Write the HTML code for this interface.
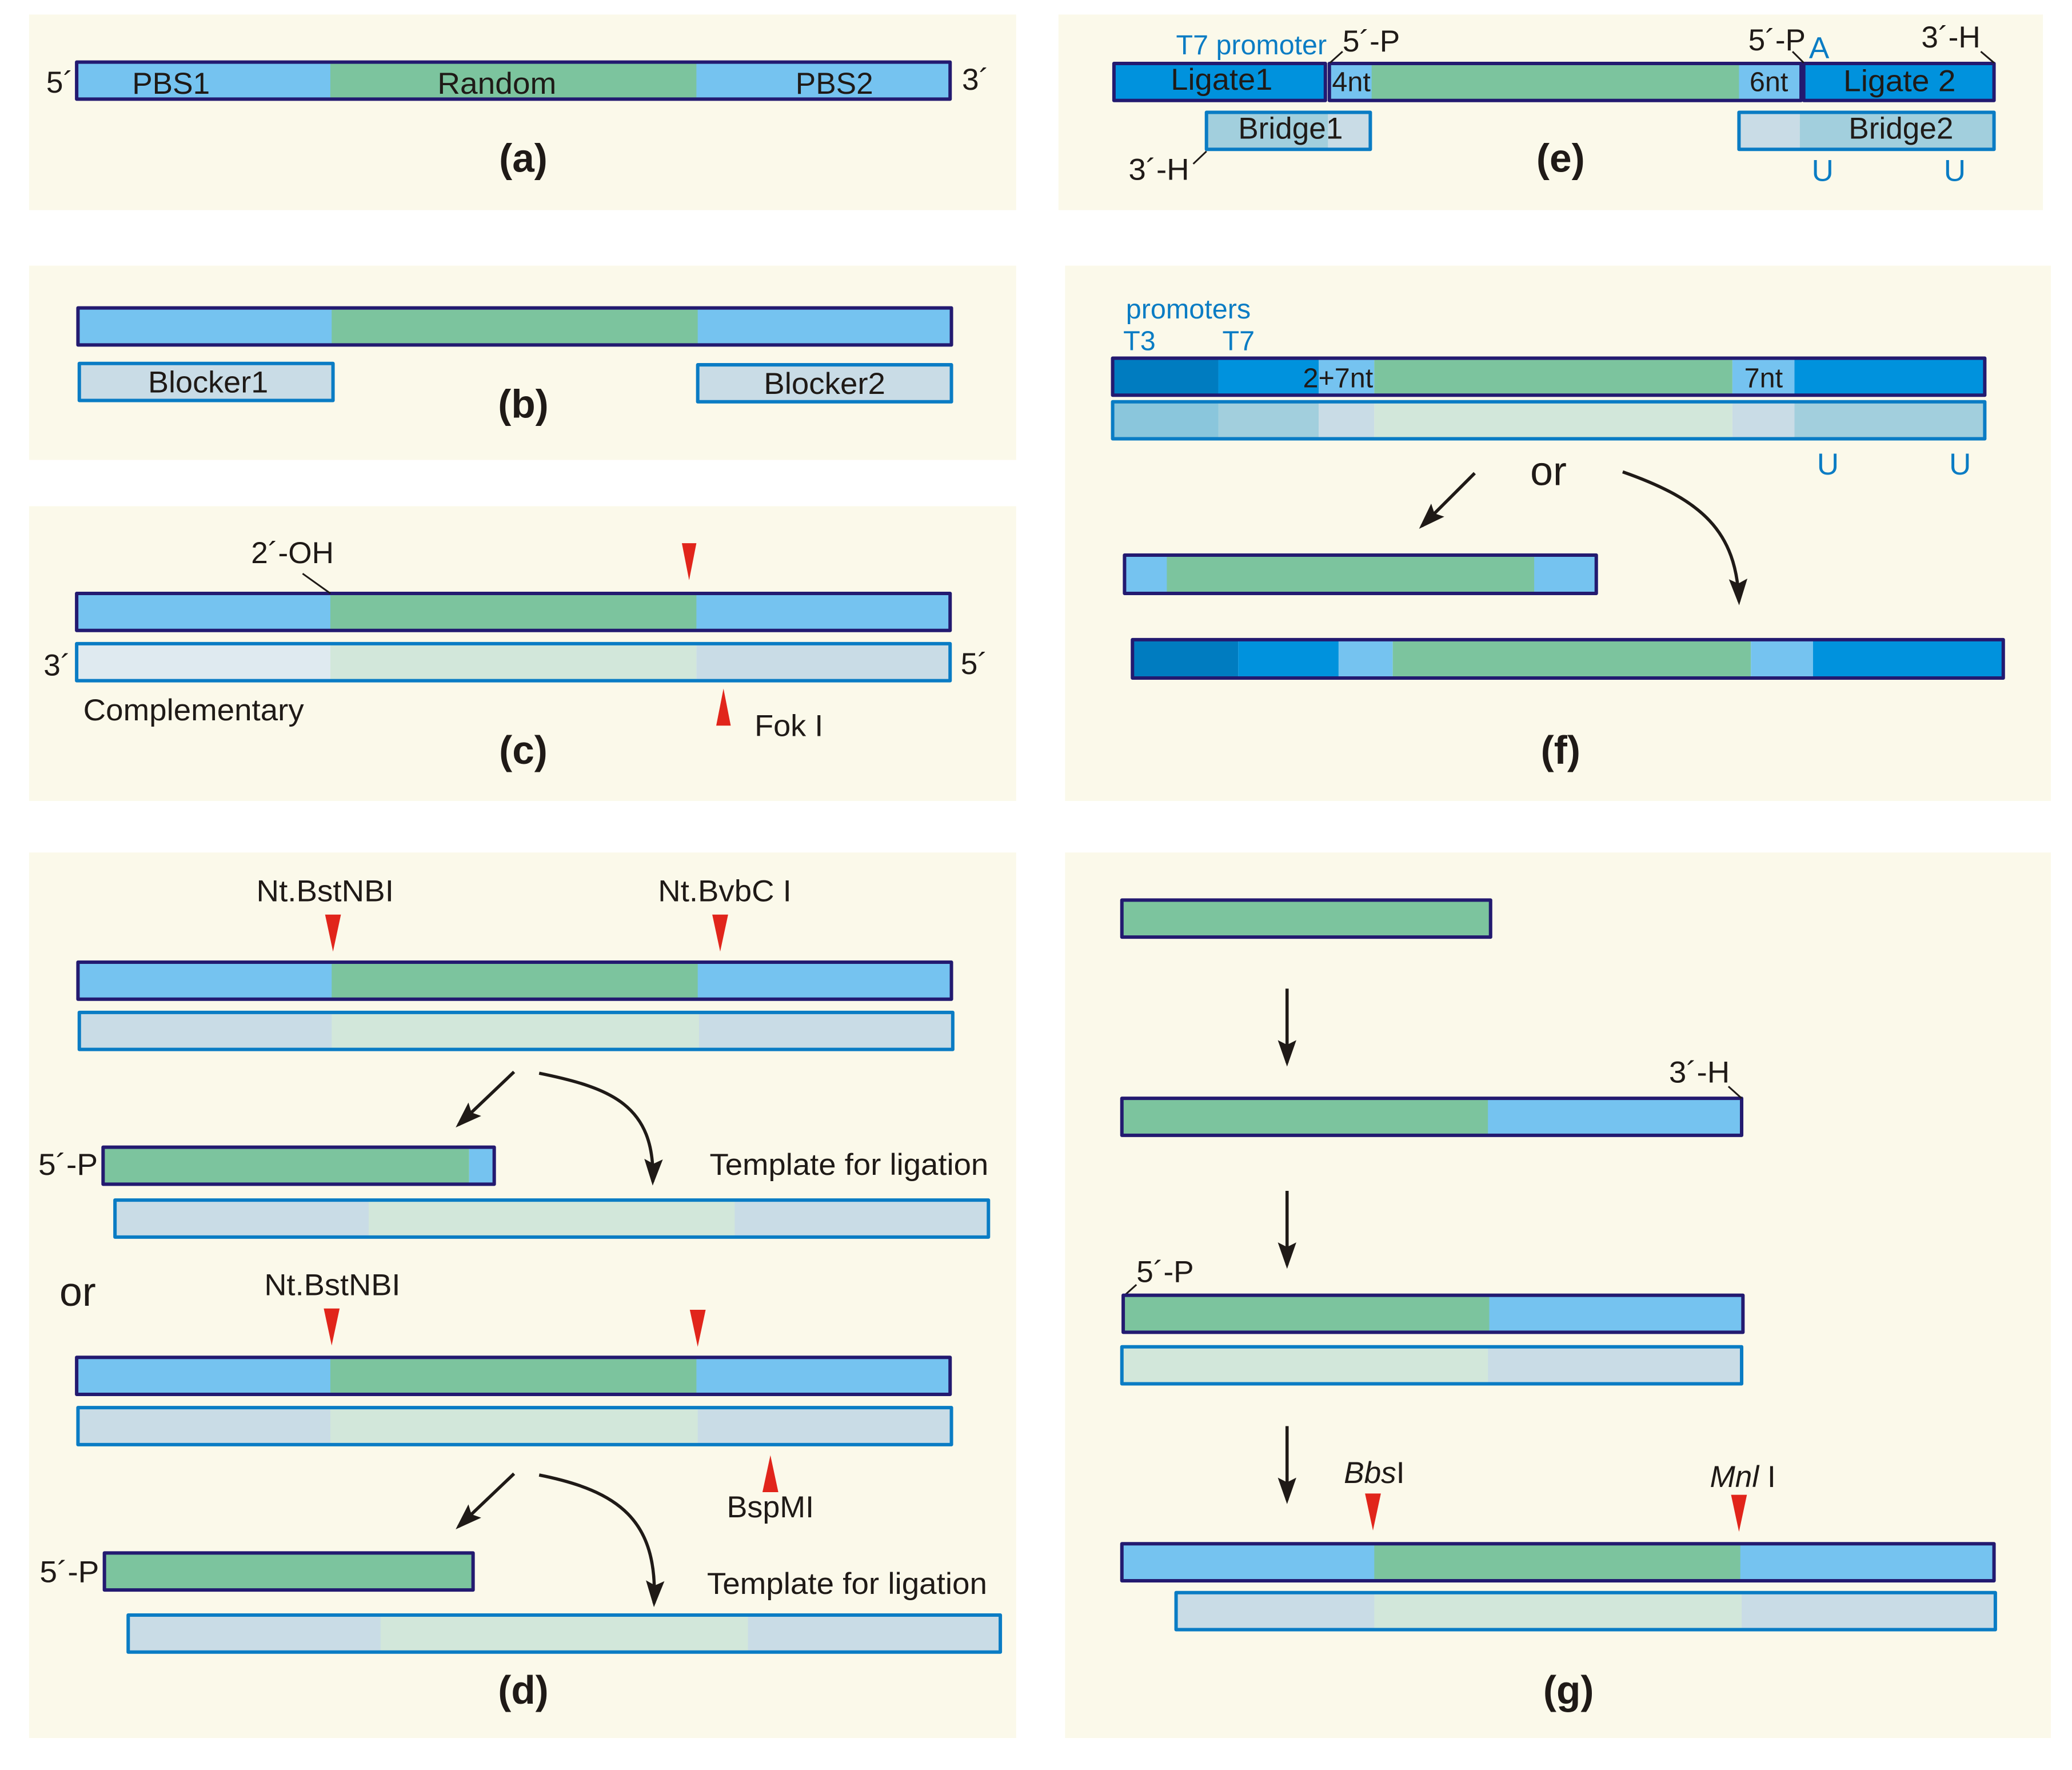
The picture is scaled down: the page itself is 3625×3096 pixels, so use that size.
<!DOCTYPE html>
<html>
<head>
<meta charset="utf-8">
<style>
html,body{margin:0;padding:0;background:#fff}
svg{display:block}
text{font-family:"Liberation Sans",sans-serif;font-size:23px;fill:#1f1a17}
.p{fill:#fbf9ea}
.bl{fill:#75c3f0}.gr{fill:#7cc49e}.db{fill:#0092dd}.dd{fill:#007cc0}
.pa{fill:#c9dce6}.pg{fill:#d2e7da}.vp{fill:#dfeaf0}.br{fill:#a2cfdd}.bd{fill:#8ac6dc}
.o{fill:none;stroke:#231a70;stroke-width:2.6;stroke-linejoin:round}
.q{fill:none;stroke:#0a7cc4;stroke-width:2.6;stroke-linejoin:round}
.r{fill:#e1251b}
.l{fill:none;stroke:#1f1a17;stroke-width:1.3}
.a{fill:none;stroke:#1f1a17;stroke-width:2.4}
.c{fill:#0a7cc4}
.b{font-weight:bold;font-size:30px;text-anchor:middle}
.s{font-size:21px}
.or{font-size:31px}
</style>
</head>
<body>
<svg xmlns="http://www.w3.org/2000/svg" width="3625" height="3096" viewBox="0 0 1568 1339.2">
<defs>
<marker id="h" markerUnits="userSpaceOnUse" markerWidth="24" markerHeight="18" refX="17" refY="9" orient="auto">
<path d="M0 2 L20 9 L0 16 L3.5 9 Z" fill="#1f1a17"/>
</marker>
</defs>
<rect width="1568" height="1339.2" fill="#fff"/>
<!-- panels -->
<rect class="p" x="22" y="11" width="747" height="148"/>
<rect class="p" x="801" y="11" width="745" height="148"/>
<rect class="p" x="22" y="201" width="747" height="147"/>
<rect class="p" x="22" y="383" width="747" height="223"/>
<rect class="p" x="22" y="645" width="747" height="670"/>
<rect class="p" x="806" y="201" width="746" height="405"/>
<rect class="p" x="806" y="645" width="746" height="670"/>

<!-- (a) -->
<rect class="bl" x="58" y="47" width="661" height="28"/><rect class="gr" x="250" y="47" width="277" height="28"/>
<rect class="o" x="58" y="47" width="661" height="28"/>
<text x="35" y="70">5´</text><text x="728" y="68">3´</text>
<text x="100" y="71">PBS1</text><text x="331" y="71" textLength="90" lengthAdjust="spacingAndGlyphs">Random</text><text x="602" y="71">PBS2</text>
<text class="b" x="396" y="130">(a)</text>

<!-- (b) -->
<rect class="bl" x="59" y="233" width="661" height="28"/><rect class="gr" x="251" y="233" width="277" height="28"/>
<rect class="o" x="59" y="233" width="661" height="28"/>
<rect class="pa" x="60" y="275" width="192" height="28"/><rect class="q" x="60" y="275" width="192" height="28"/>
<rect class="pa" x="528" y="276" width="192" height="28"/><rect class="q" x="528" y="276" width="192" height="28"/>
<text x="112" y="297" textLength="91" lengthAdjust="spacingAndGlyphs">Blocker1</text><text x="578" y="298" textLength="92" lengthAdjust="spacingAndGlyphs">Blocker2</text>
<text class="b" x="396" y="316">(b)</text>

<!-- (c) -->
<rect class="bl" x="58" y="449" width="661" height="28"/><rect class="gr" x="250" y="449" width="277" height="28"/>
<rect class="o" x="58" y="449" width="661" height="28"/>
<rect class="vp" x="58" y="487" width="192" height="28"/><rect class="pg" x="250" y="487" width="277" height="28"/><rect class="pa" x="527" y="487" width="192" height="28"/>
<rect class="q" x="58" y="487" width="661" height="28"/>
<text x="190" y="426">2´-OH</text><line class="l" x1="229" y1="434" x2="250" y2="449"/>
<polygon class="r" points="516,411 527,411 521.5,439"/>
<polygon class="r" points="542,549 553,549 547.5,521"/>
<text x="33" y="511">3´</text><text x="727" y="510">5´</text>
<text x="63" y="545" textLength="167" lengthAdjust="spacingAndGlyphs">Complementary</text><text x="571" y="557" textLength="52" lengthAdjust="spacingAndGlyphs">Fok I</text>
<text class="b" x="396" y="578">(c)</text>

<!-- (d) -->
<text x="194" y="682" textLength="104" lengthAdjust="spacingAndGlyphs">Nt.BstNBI</text><text x="498" y="682" textLength="101" lengthAdjust="spacingAndGlyphs">Nt.BvbC I</text>
<polygon class="r" points="246,692 258,692 252,720"/><polygon class="r" points="539,692 551,692 545,720"/>
<rect class="bl" x="59" y="728" width="661" height="28"/><rect class="gr" x="251" y="728" width="277" height="28"/>
<rect class="o" x="59" y="728" width="661" height="28"/>
<rect class="pa" x="60" y="766" width="661" height="28"/><rect class="pg" x="251" y="766" width="278" height="28"/>
<rect class="q" x="60" y="766" width="661" height="28"/>
<line class="a" x1="389" y1="811" x2="347" y2="851" marker-end="url(#h)"/>
<path class="a" d="M408 812 C462 823 496 836 494 894" marker-end="url(#h)"/>
<text x="29" y="889" textLength="45" lengthAdjust="spacingAndGlyphs">5´-P</text>
<rect class="gr" x="78" y="868" width="277" height="28"/><rect class="bl" x="355" y="868" width="19" height="28"/>
<rect class="o" x="78" y="868" width="296" height="28"/>
<text x="537" y="889" textLength="211" lengthAdjust="spacingAndGlyphs">Template for ligation</text>
<rect class="pa" x="87" y="908" width="661" height="28"/><rect class="pg" x="279" y="908" width="277" height="28"/>
<rect class="q" x="87" y="908" width="661" height="28"/>
<text class="or" x="45" y="988">or</text>
<text x="200" y="980" textLength="103" lengthAdjust="spacingAndGlyphs">Nt.BstNBI</text>
<polygon class="r" points="245,990 257,990 251,1018"/><polygon class="r" points="522,991 534,991 528,1019"/>
<rect class="bl" x="58" y="1027" width="661" height="28"/><rect class="gr" x="250" y="1027" width="277" height="28"/>
<rect class="o" x="58" y="1027" width="661" height="28"/>
<rect class="pa" x="59" y="1065" width="661" height="28"/><rect class="pg" x="250" y="1065" width="278" height="28"/>
<rect class="q" x="59" y="1065" width="661" height="28"/>
<polygon class="r" points="577,1129 589,1129 583,1101"/>
<text x="550" y="1148" textLength="66" lengthAdjust="spacingAndGlyphs">BspMI</text>
<line class="a" x1="389" y1="1115" x2="347" y2="1155" marker-end="url(#h)"/>
<path class="a" d="M408 1116 C468 1128 498 1150 495 1213" marker-end="url(#h)"/>
<text x="30" y="1197" textLength="45" lengthAdjust="spacingAndGlyphs">5´-P</text>
<rect class="gr" x="79" y="1175" width="279" height="28"/><rect class="o" x="79" y="1175" width="279" height="28"/>
<text x="535" y="1206" textLength="212" lengthAdjust="spacingAndGlyphs">Template for ligation</text>
<rect class="pa" x="97" y="1222" width="660" height="28"/><rect class="pg" x="288" y="1222" width="278" height="28"/>
<rect class="q" x="97" y="1222" width="660" height="28"/>
<text class="b" x="396" y="1289">(d)</text>

<!-- (e) -->
<text class="c" x="890" y="41" textLength="114" lengthAdjust="spacingAndGlyphs" style="font-size:21px">T7 promoter</text>
<text x="1016" y="39">5´-P</text><text x="1323" y="38">5´-P</text>
<text class="c" x="1369" y="44">A</text><text x="1454" y="36">3´-H</text>
<rect class="db" x="843" y="48" width="160" height="28"/><rect class="o" x="843" y="48" width="160" height="28"/>
<rect class="bl" x="1006" y="48" width="357" height="28"/><rect class="gr" x="1038" y="48" width="278" height="28"/>
<rect class="o" x="1006" y="48" width="357" height="28"/>
<rect class="db" x="1365" y="48" width="144" height="28"/><rect class="o" x="1365" y="48" width="144" height="28"/>
<text x="886" y="68" textLength="77" lengthAdjust="spacingAndGlyphs">Ligate1</text><text class="s" x="1008" y="69">4nt</text><text class="s" x="1324" y="69">6nt</text><text x="1395" y="69" textLength="85" lengthAdjust="spacingAndGlyphs">Ligate 2</text>
<line class="l" x1="1016" y1="39" x2="1006.5" y2="47.5"/>
<line class="l" x1="1356.5" y1="39" x2="1365" y2="47.5"/>
<line class="l" x1="1499" y1="39" x2="1509" y2="47.5"/>
<rect class="br" x="913" y="85" width="92" height="28"/><rect class="pa" x="1005" y="85" width="32" height="28"/>
<rect class="q" x="913" y="85" width="124" height="28"/>
<text x="937" y="105">Bridge1</text>
<rect class="pa" x="1316" y="85" width="46" height="28"/><rect class="br" x="1362" y="85" width="147" height="28"/>
<rect class="q" x="1316" y="85" width="193" height="28"/>
<text x="1399" y="105">Bridge2</text>
<text x="854" y="136" textLength="46" lengthAdjust="spacingAndGlyphs">3´-H</text><line class="l" x1="913" y1="114.5" x2="903" y2="124"/>
<text class="b" x="1181" y="130">(e)</text>
<text class="c" x="1371" y="137">U</text><text class="c" x="1471" y="137">U</text>

<!-- (f) -->
<text class="c" x="852" y="241" style="font-size:21px">promoters</text>
<text class="c" x="850" y="265" style="font-size:21px">T3</text><text class="c" x="925" y="265" style="font-size:21px">T7</text>
<rect class="dd" x="842" y="271" width="80" height="28"/><rect class="db" x="922" y="271" width="76" height="28"/><rect class="bl" x="998" y="271" width="42" height="28"/><rect class="gr" x="1040" y="271" width="271" height="28"/><rect class="bl" x="1311" y="271" width="47" height="28"/><rect class="db" x="1358" y="271" width="144" height="28"/>
<rect class="o" x="842" y="271" width="660" height="28"/>
<text class="s" x="986" y="293">2+7nt</text><text class="s" x="1320" y="293">7nt</text>
<rect class="bd" x="842" y="304" width="80" height="28"/><rect class="br" x="922" y="304" width="76" height="28"/><rect class="pa" x="998" y="304" width="42" height="28"/><rect class="pg" x="1040" y="304" width="271" height="28"/><rect class="pa" x="1311" y="304" width="47" height="28"/><rect class="br" x="1358" y="304" width="144" height="28"/>
<rect class="q" x="842" y="304" width="660" height="28"/>
<text class="c" x="1375" y="359">U</text><text class="c" x="1475" y="359">U</text>
<text class="or" x="1158" y="367">or</text>
<line class="a" x1="1116" y1="358" x2="1076" y2="398" marker-end="url(#h)"/>
<path class="a" d="M1228 357 C1288 378 1314 402 1316 455" marker-end="url(#h)"/>
<rect class="bl" x="851" y="420" width="357" height="29"/><rect class="gr" x="883" y="420" width="278" height="29"/>
<rect class="o" x="851" y="420" width="357" height="29"/>
<rect class="dd" x="857" y="484" width="80" height="29"/><rect class="db" x="937" y="484" width="76" height="29"/><rect class="bl" x="1013" y="484" width="41" height="29"/><rect class="gr" x="1054" y="484" width="271" height="29"/><rect class="bl" x="1325" y="484" width="47" height="29"/><rect class="db" x="1372" y="484" width="144" height="29"/>
<rect class="o" x="857" y="484" width="659" height="29"/>
<text class="b" x="1181" y="578">(f)</text>

<!-- (g) -->
<rect class="gr" x="849" y="681" width="279" height="28"/><rect class="o" x="849" y="681" width="279" height="28"/>
<line class="a" x1="974" y1="748" x2="974" y2="804" marker-end="url(#h)"/>
<rect class="bl" x="849" y="831" width="469" height="28"/><rect class="gr" x="849" y="831" width="277" height="28"/>
<rect class="o" x="849" y="831" width="469" height="28"/>
<text x="1263" y="819" textLength="46" lengthAdjust="spacingAndGlyphs">3´-H</text><line class="l" x1="1308" y1="822" x2="1318" y2="831"/>
<line class="a" x1="974" y1="901" x2="974" y2="957" marker-end="url(#h)"/>
<text x="860" y="970">5´-P</text><line class="l" x1="860" y1="972" x2="850" y2="981"/>
<rect class="bl" x="850" y="980" width="469" height="28"/><rect class="gr" x="850" y="980" width="277" height="28"/>
<rect class="o" x="850" y="980" width="469" height="28"/>
<rect class="pa" x="849" y="1019" width="469" height="28"/><rect class="pg" x="849" y="1019" width="277" height="28"/>
<rect class="q" x="849" y="1019" width="469" height="28"/>
<line class="a" x1="974" y1="1079" x2="974" y2="1135" marker-end="url(#h)"/>
<text x="1017" y="1122"><tspan font-style="italic">Bbs</tspan>I</text>
<text x="1294" y="1125"><tspan font-style="italic">Mnl</tspan> I</text>
<polygon class="r" points="1033,1130 1045,1130 1039,1158"/><polygon class="r" points="1310,1131 1322,1131 1316,1159"/>
<rect class="bl" x="849" y="1168" width="660" height="28"/><rect class="gr" x="1040" y="1168" width="277" height="28"/>
<rect class="o" x="849" y="1168" width="660" height="28"/>
<rect class="pa" x="890" y="1205" width="620" height="28"/><rect class="pg" x="1040" y="1205" width="278" height="28"/>
<rect class="q" x="890" y="1205" width="620" height="28"/>
<text class="b" x="1187" y="1289">(g)</text>
</svg>
</body>
</html>
